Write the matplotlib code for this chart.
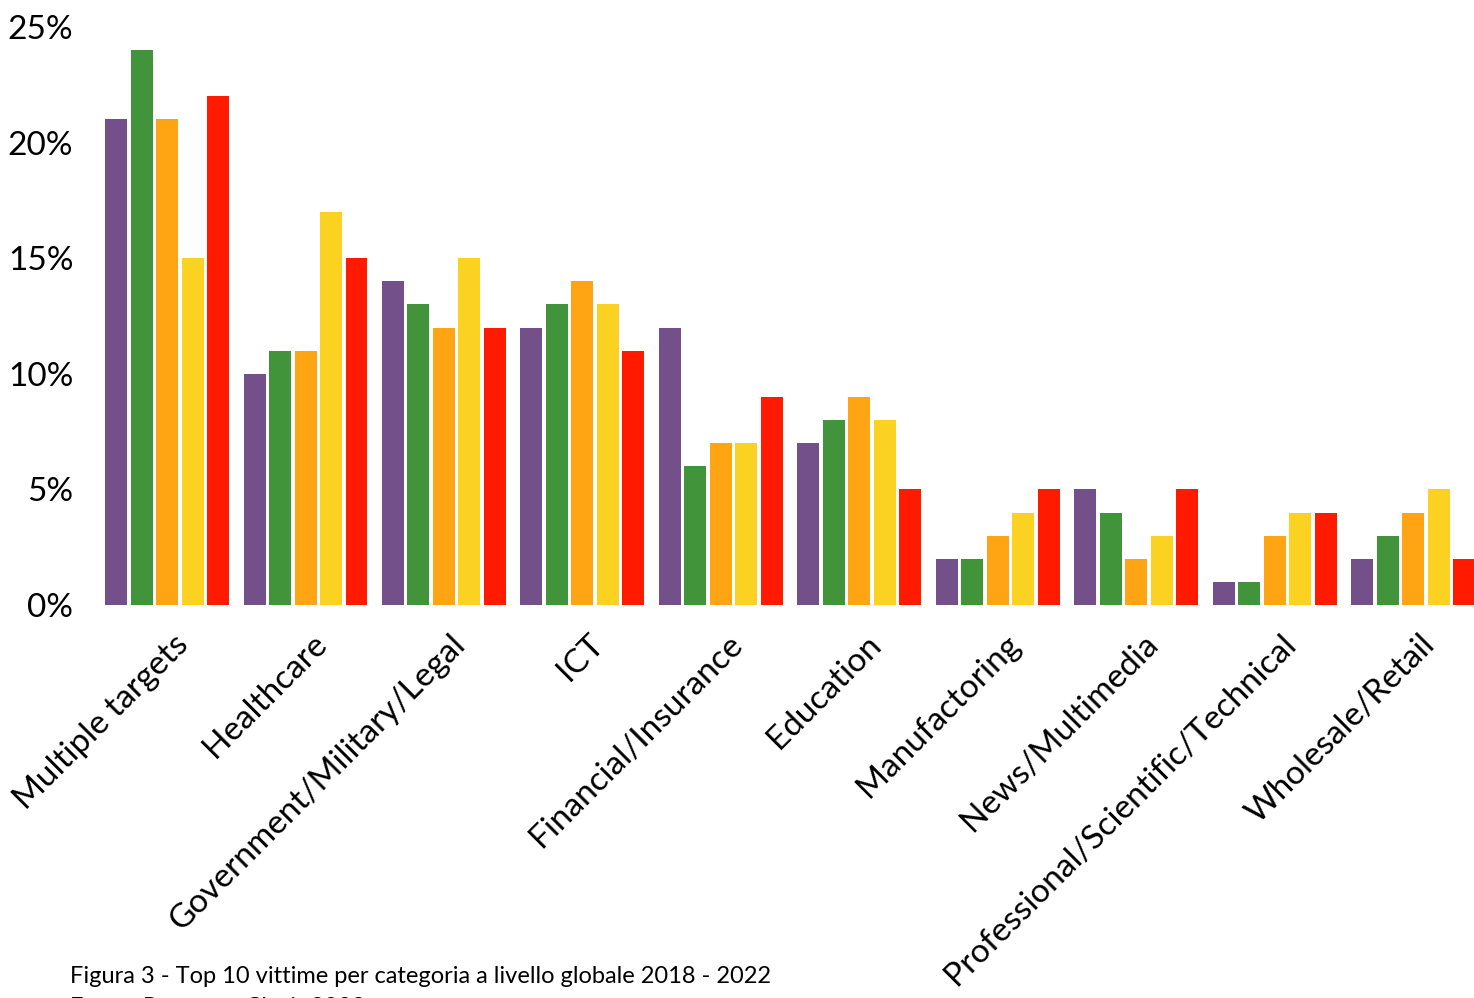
import numpy as np
import matplotlib.pyplot as plt
from matplotlib.transforms import ScaledTranslation

plt.rcParams['font.family'] = ['Lato', 'DejaVu Sans']

categories = ['Multiple targets', 'Healthcare', 'Government/Military/Legal', 'ICT',
              'Financial/Insurance', 'Education', 'Manufactoring', 'News/Multimedia',
              'Professional/Scientific/Technical', 'Wholesale/Retail']
years = ['2018', '2019', '2020', '2021', '2022']
colors = ['#735089', '#42943B', '#FFA412', '#FBD221', '#FF1A00']

v2018 = [21, 10, 14, 12, 12, 7, 2, 5, 1, 2]
v2019 = [24, 11, 13, 13, 6, 8, 2, 4, 1, 3]
v2020 = [21, 11, 12, 14, 7, 9, 3, 2, 3, 4]
v2021 = [15, 17, 15, 13, 7, 8, 4, 3, 4, 5]
v2022 = [22, 15, 12, 11, 9, 5, 5, 5, 4, 2]
series = [v2018, v2019, v2020, v2021, v2022]

fig = plt.figure(figsize=(14.74, 9.98), dpi=100)
ax = fig.add_axes([90 / 1474, 1 - 605 / 998, 1 - 90 / 1474, (605 - 27) / 998])

x = np.arange(len(categories))
step = 25.5 / 138.5
width = 22 / 138.5
for i, (vals, c) in enumerate(zip(series, colors)):
    ax.bar(x + (i - 2) * step, vals, width=width, color=c, label=years[i])

ax.set_xlim(-0.556, 9.437)
ax.set_ylim(0, 25)
ax.set_yticks([0, 5, 10, 15, 20, 25])
ax.set_yticklabels([f'{t}%' for t in [0, 5, 10, 15, 20, 25]], fontsize=24)
ax.tick_params(axis='y', length=0, pad=12)
ax.tick_params(axis='x', length=0, pad=0)

ax.set_xticks(x)
ax.set_xticklabels(categories, fontsize=24, rotation=45, ha='right', va='top',
                   rotation_mode='anchor')
offset = ScaledTranslation(6 / 100, -24 / 100, fig.dpi_scale_trans)
for lab in ax.get_xticklabels():
    lab.set_transform(lab.get_transform() + offset)

for s in ax.spines.values():
    s.set_visible(False)

fig.text(70 / 1474, 1 - 983 / 998, 'Figura 3 - Top 10 vittime per categoria a livello globale 2018 - 2022',
         fontsize=17, va='baseline')
fig.text(70 / 1474, 1 - 1014 / 998, 'Fonte: Rapporto Clusit 2023',
         fontsize=17, va='baseline')

fig.savefig('out.png', dpi=100)
